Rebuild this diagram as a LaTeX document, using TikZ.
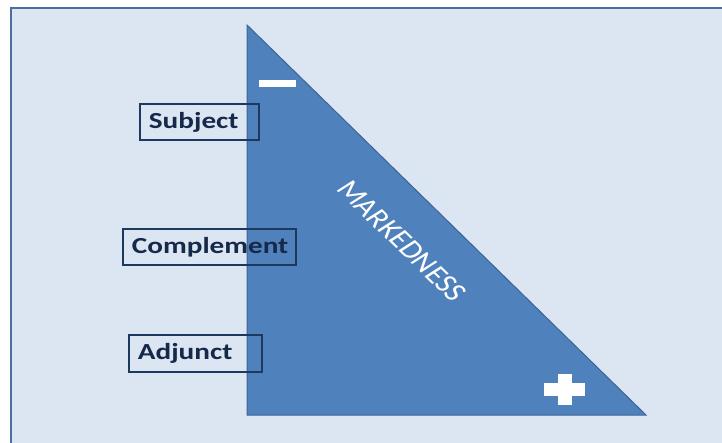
\documentclass[tikz,border=0pt]{standalone}
\usepackage{fontspec}
\setmainfont{Carlito}
\usepackage{graphicx}
\definecolor{bgfill}{HTML}{DCE6F2}
\definecolor{bgline}{HTML}{4C6E9E}
\definecolor{trifill}{HTML}{4F81BD}
\definecolor{triline}{HTML}{3B6496}
\definecolor{boxline}{HTML}{1B3A5E}
\definecolor{boxtext}{HTML}{16294A}
\begin{document}
\begin{tikzpicture}[x=1pt,y=1pt,
  labelbox/.style={draw=boxline, line width=1.8pt, rectangle, inner xsep=9pt, inner ysep=0pt,
    align=left, text=boxtext, font=\fontsize{23}{23}\selectfont\bfseries, anchor=north west},
  whitebar/.style={fill=white, draw=none}]
\useasboundingbox (0,0) rectangle (722,-443);
\fill[white] (0,0) rectangle (722,-443);
\path[fill=bgfill, draw=bgline, line width=2pt] (11,-8) rectangle (740,-460);
% triangle
\coordinate (tA) at (247,-25);
\coordinate (tB) at (247,-415);
\coordinate (tC) at (646,-415);
\path[fill=trifill, draw=triline, line width=1pt] (tA) -- (tB) -- (tC) -- cycle;
% minus and plus
\fill[white] (259,-80) rectangle (296,-87);
\fill[white] (544,-383) rectangle (585,-396);
\fill[white] (558,-374) rectangle (572,-405);
% MARKEDNESS
\begin{scope}[shift={(402,-241)}, xscale=1.27]
\node[rotate=-51, transform shape, text=white, font=\fontsize{26}{26}\selectfont, inner sep=0pt] (mk) {MARKEDNESS};
\end{scope}
% label boxes
\node[labelbox, minimum width=119pt, minimum height=36pt, text width=101pt] (subj) at (139,-103) {\scalebox{1.27}[1]{Subject}};
\node[labelbox, minimum width=173pt, minimum height=36pt, text width=155pt] (comp) at (122,-228) {\scalebox{1.27}[1]{Complement}};
\node[labelbox, minimum width=133pt, minimum height=37pt, text width=115pt] (adj) at (128,-334) {\scalebox{1.27}[1]{Adjunct}};
\end{tikzpicture}
\end{document}
